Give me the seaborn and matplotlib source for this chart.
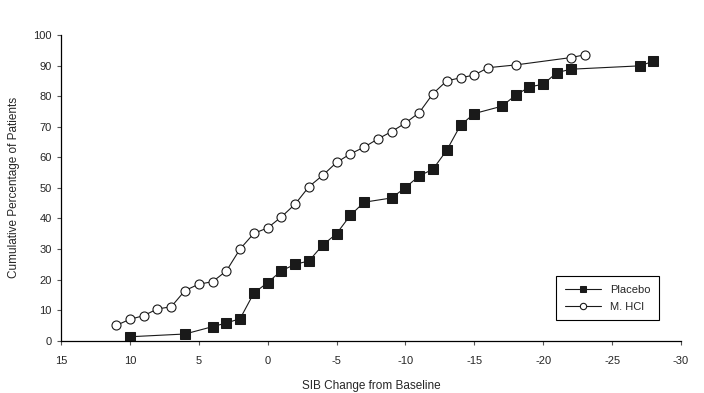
import numpy as np
import pandas as pd
import matplotlib
matplotlib.use("Agg")
import matplotlib.pyplot as plt
import seaborn as sns

# SIB change from baseline vs cumulative % of patients
placebo_x = [10, 6, 4, 3, 2, 1, 0, -1, -2, -3, -4, -5, -6, -7, -9, -10,
             -11, -12, -13, -14, -15, -17, -18, -19, -20, -21, -22, -27, -28]
placebo_y = [1.3, 2.2, 4.6, 5.8, 7.2, 15.6, 19.0, 22.9, 25.0, 26.1, 31.3, 35.0,
             41.0, 45.3, 46.7, 50.1, 53.9, 56.1, 62.3, 70.5, 74.3, 76.7, 80.3,
             83.0, 83.9, 87.7, 88.8, 89.9, 91.4]

mhcl_x = [11, 10, 9, 8, 7, 6, 5, 4, 3, 2, 1, 0, -1, -2, -3, -4, -5, -6, -7,
          -8, -9, -10, -11, -12, -13, -14, -15, -16, -18, -22, -23]
mhcl_y = [5.0, 7.0, 8.2, 10.4, 11.1, 16.4, 18.5, 19.3, 22.8, 30.0, 35.1, 36.9,
          40.5, 44.7, 50.4, 54.1, 58.3, 61.1, 63.3, 66.0, 68.4, 71.2, 74.6,
          80.8, 85.0, 86.0, 86.9, 89.3, 90.2, 92.6, 93.5]

x_ticks = [15, 10, 5, 0, -5, -10, -15, -20, -25, -30]
y_ticks = [0, 10, 20, 30, 40, 50, 60, 70, 80, 90, 100]

sns.set_style("ticks")
plt.rcParams['font.family'] = ['Liberation Sans', 'DejaVu Sans']
plt.rcParams['font.size'] = 8
plt.rcParams['axes.unicode_minus'] = False

fig = plt.figure(figsize=(7.04, 3.93), dpi=100)
ax = fig.add_axes([0.0866, 0.133, 0.8807, 0.778])

sns.lineplot(x=placebo_x, y=placebo_y, ax=ax, sort=False, color='#1a1a1a',
             linewidth=0.8, marker='s', markersize=7, markerfacecolor='#1a1a1a',
             markeredgecolor='#1a1a1a', label='Placebo')
sns.lineplot(x=mhcl_x, y=mhcl_y, ax=ax, sort=False, color='#1a1a1a',
             linewidth=0.8, marker='o', markersize=6.5, markerfacecolor='white',
             markeredgecolor='#1a1a1a', markeredgewidth=0.8, label='M. HCl')

ax.set_xlim(15, -30)
ax.set_ylim(0, 100)
ax.set_xticks(x_ticks)
ax.set_yticks(y_ticks)
ax.tick_params(axis='both', labelsize=8, length=3, width=0.8, color='#555555')
ax.tick_params(axis='x', pad=8)
sns.despine(ax=ax)
for s in ['left', 'bottom']:
    ax.spines[s].set_linewidth(0.9)
    ax.spines[s].set_color('black')

ax.set_xlabel('SIB Change from Baseline', fontsize=8.5, labelpad=10)
ax.set_ylabel('Cumulative Percentage of Patients', fontsize=8.5, labelpad=10)

leg = ax.legend(loc='upper left', bbox_to_anchor=(0.79, 0.23), fancybox=False,
                framealpha=1, edgecolor='black', fontsize=8, handlelength=3.2,
                borderpad=0.8, labelspacing=0.6, markerscale=0.7)
leg.get_frame().set_linewidth(0.8)

fig.savefig('out.png', dpi=100)
